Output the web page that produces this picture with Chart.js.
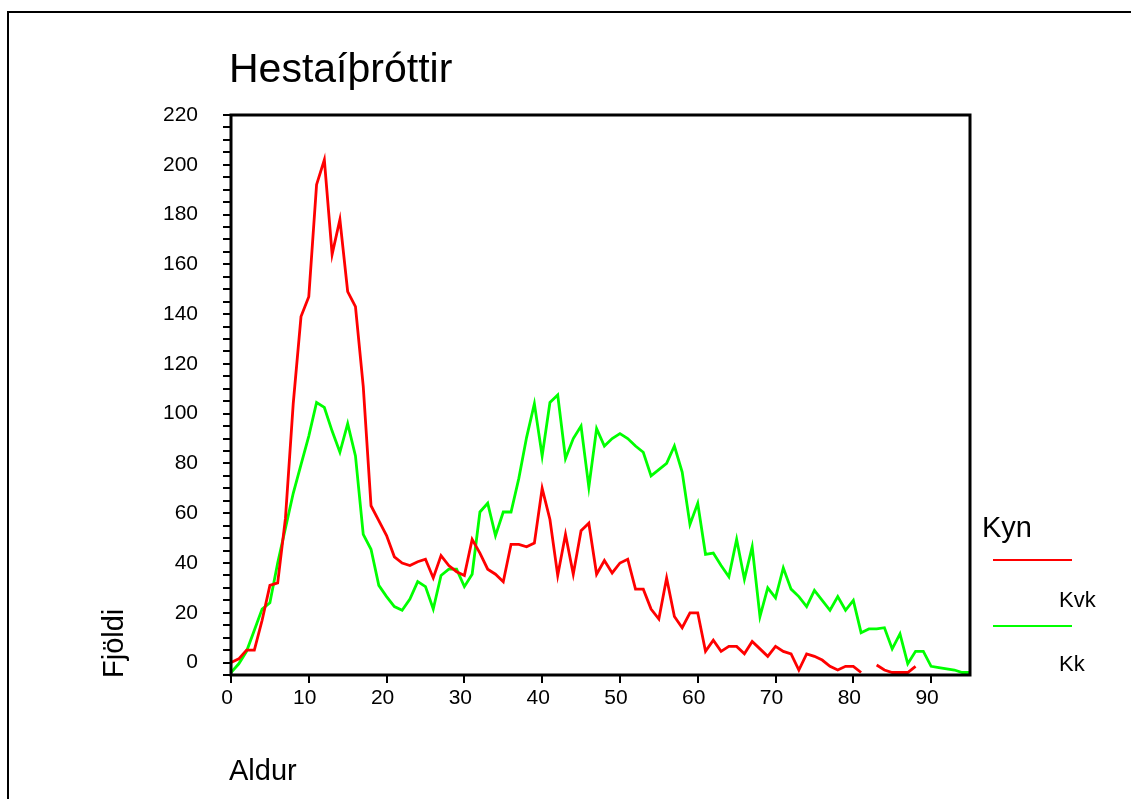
<!DOCTYPE html>
<html>
<head>
<meta charset="utf-8">
<script src="https://cdn.jsdelivr.net/npm/chart.js@4/dist/chart.umd.min.js"></script>
<style>
html,body{margin:0;padding:0;background:#fff;overflow:hidden}
#wrap{width:1131px;height:799px;position:relative}
canvas{display:block}
</style>
</head>
<body>
<div id="wrap"><canvas id="c" width="1131" height="799"></canvas></div>
<script>
// ---- data ----
const ages = [0,1,2,3,4,5,6,7,8,9,10,11,12,13,14,15,16,17,18,19,20,21,22,23,24,25,26,27,28,29,30,31,32,33,34,35,36,37,38,39,40,41,42,43,44,45,46,47,48,49,50,51,52,53,54,55,56,57,58,59,60,61,62,63,64,65,66,67,68,69,70,71,72,73,74,75,76,77,78,79,80,81,82,83,84,85,86,87,88,89,90,91,92,93,94,95];
const kvk = [0,1.5,5,5,17,31,32,58,104,139,147,192,202,164,178,149,143,111,63,57,51,42.5,40,39,40.5,41.5,34,43,39,36.5,35,49.5,44,37.5,35.5,32.5,47.5,47.5,46.5,48,70,57.5,35,51.5,35.5,53,56,35.5,41,36,40,41.5,29.5,29.5,21.5,17.5,34,18.5,14,20,20,4.5,9,4.5,6.5,6.5,3.5,8.5,5.5,2.5,6.5,4.5,3.5,-3,3.5,2.5,1,-1.5,-3,-1.5,-1.5,-4,null,-1,-3,-4,-4,-4,-1.5,null,null,null,null,null,null,null];
const kk = [-4,-0.5,4.5,13,21.5,24,40,54,68,79.5,91,104.5,102.5,93,84.5,96,83,51.5,45.5,31,26.5,22.5,21,25.5,32.5,30.5,21.5,35,37.5,37.5,30.5,35.5,60.5,64,51,60.5,60.5,74,90.5,104,83,104.5,107.5,82,90,95,70.5,94,87,90,92,90,87,84.5,75,77.5,80,87,76.5,55.5,64,43.5,44,39,34.5,49.5,33.5,46.5,18.5,30,26,38,29.5,26.5,22.5,29,25,21,26.5,21,25,12,13.5,13.5,14,5.5,11.5,-0.5,4.5,4.5,-1.5,-2,-2.5,-3,-4,-4];
const seriesNames = ['Kvk','Kk'];
const seriesColors = ['#ff0000','#00ff00'];
const xTickValues = [0,10,20,30,40,50,60,70,80,90];
const yTickLabels = [0,20,40,60,80,100,120,140,160,180,200,220];
const chartTitle = 'Hestaíþróttir';
const xTitle = 'Aldur';
const yTitle = 'Fjöldi';
const legendTitle = 'Kyn';

const FONT = "'Liberation Sans', Arial, sans-serif";

const decor = {
  id: 'decor',
  afterDraw(chart) {
    const ctx = chart.ctx, ca = chart.chartArea;
    ctx.save();
    // outer frame
    ctx.strokeStyle = '#000';
    ctx.lineWidth = 2;
    ctx.strokeRect(8, 12, 1160, 820);
    // plot frame
    ctx.lineWidth = 3;
    ctx.strokeRect(ca.left, ca.top, ca.right - ca.left, ca.bottom - ca.top);
    // title
    ctx.fillStyle = '#000';
    ctx.textAlign = 'left';
    ctx.textBaseline = 'alphabetic';
    ctx.font = '41px ' + FONT;
    ctx.fillText(chartTitle, 229, 82);
    // axis titles
    ctx.font = '29px ' + FONT;
    ctx.fillText(xTitle, 229, 780);
    ctx.save();
    ctx.translate(123, 678);
    ctx.rotate(-Math.PI / 2);
    ctx.fillText(yTitle, 0, 0);
    ctx.restore();
    // legend
    ctx.font = '29px ' + FONT;
    ctx.fillText(legendTitle, 982, 537);
    ctx.font = '22px ' + FONT;
    const ly = [560, 626];
    const ty = [607, 671];
    chart.data.datasets.forEach((ds, i) => {
      ctx.strokeStyle = ds.borderColor;
      ctx.lineWidth = 2;
      ctx.beginPath();
      ctx.moveTo(993, ly[i]);
      ctx.lineTo(1072, ly[i]);
      ctx.stroke();
      ctx.fillStyle = '#000';
      ctx.fillText(ds.label, 1059, ty[i]);
    });
    ctx.restore();
  }
};

const mk = (arr) => ages.map((a, i) => ({x: a, y: arr[i]}));

new Chart(document.getElementById('c'), {
  type: 'line',
  data: {
    datasets: [
      {label: seriesNames[0], data: mk(kvk), borderColor: seriesColors[0], borderWidth: 2.8, pointRadius: 0, tension: 0, spanGaps: false, fill: false},
      {label: seriesNames[1], data: mk(kk), borderColor: seriesColors[1], borderWidth: 2.8, pointRadius: 0, tension: 0, spanGaps: false, fill: false}
    ]
  },
  options: {
    responsive: false,
    animation: false,
    devicePixelRatio: 1,
    layout: {padding: {left: 0, top: 115, right: 161, bottom: 0}},
    plugins: {legend: {display: false}, title: {display: false}, tooltip: {enabled: false}},
    scales: {
      x: {
        type: 'linear', min: 0, max: 95,
        afterBuildTicks: s => { s.ticks = xTickValues.map(v => ({value: v})); },
        afterFit: s => { s.height = 124; },
        border: {display: false},
        grid: {drawOnChartArea: false, drawTicks: true, tickLength: 8, color: '#000', lineWidth: 2},
        ticks: {autoSkip: false, maxRotation: 0, color: '#000', padding: 3, labelOffset: -4, font: {family: FONT, size: 21}}
      },
      y: {
        type: 'linear', min: -5, max: 220,
        afterBuildTicks: s => { const t = []; for (let v = -5; v <= 220; v += 5) t.push({value: v}); s.ticks = t; },
        afterFit: s => { s.width = 231; },
        border: {display: false},
        grid: {drawOnChartArea: false, drawTicks: true, tickLength: 8, color: '#000', lineWidth: 2},
        ticks: {autoSkip: false, color: '#000', padding: 25, font: {family: FONT, size: 21},
          callback: v => yTickLabels.includes(v) ? String(v) : ''}
      }
    }
  },
  plugins: [decor]
});
</script>
</body>
</html>
